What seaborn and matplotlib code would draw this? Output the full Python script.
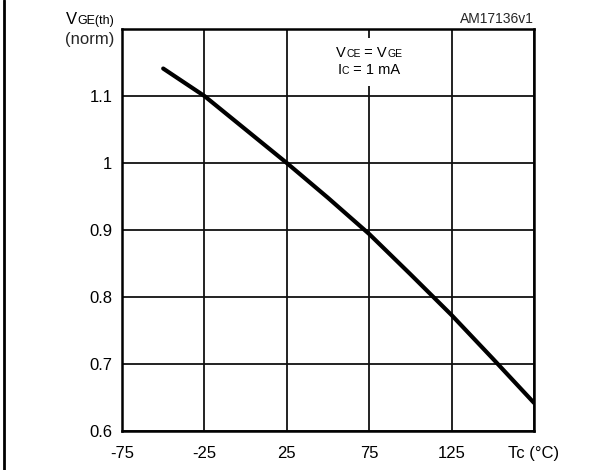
import numpy as np
import pandas as pd
import seaborn as sns
import matplotlib.pyplot as plt
from matplotlib.lines import Line2D
from matplotlib.offsetbox import TextArea, HPacker, VPacker, AnnotationBbox

# normalised gate threshold voltage vs case temperature
temp_c = [-50, -25, 0, 25, 50, 75, 100, 125, 150, 175]
vge_norm = [1.141, 1.100, 1.050, 1.000, 0.948, 0.894, 0.834, 0.773, 0.708, 0.642]

x_ticks = [-75, -25, 25, 75, 125, 175]
x_ticklabels = ['-75', '-25', '25', '75', '125', 'Tc (°C)']
y_ticks = [0.6, 0.7, 0.8, 0.9, 1.0, 1.1, 1.2]
y_ticklabels = ['0.6', '0.7', '0.8', '0.9', '1', '1.1', '']

sns.set_style('white')
plt.rcParams['font.family'] = ['Liberation Sans', 'DejaVu Sans']

df = pd.DataFrame({'Tc': temp_c, 'Vge': vge_norm})

fig = plt.figure(figsize=(6.13, 4.70), dpi=100)
ax = fig.add_axes([122 / 613, 39 / 470, 412 / 613, 402 / 470])

sns.lineplot(data=df, x='Tc', y='Vge', color='black', linewidth=3, ax=ax, zorder=5)

ax.set_xlim(-75, 175)
ax.set_ylim(0.6, 1.2)
ax.set_xticks(x_ticks)
ax.set_xticklabels(x_ticklabels)
ax.set_yticks(y_ticks)
ax.set_yticklabels(y_ticklabels)
ax.tick_params(axis='both', length=0, labelsize=12, colors='black')
ax.tick_params(axis='x', pad=11)
ax.tick_params(axis='y', pad=7)
ax.set_xlabel('')
ax.set_ylabel('')
ax.grid(True, color='#111111', linewidth=1.3)
for sp in ax.spines.values():
    sp.set_visible(True)
    sp.set_color('black')
    sp.set_linewidth(1.8)


def mixed(parts):
    kids = [TextArea(t, textprops=dict(fontsize=s, color='black')) for t, s in parts]
    return HPacker(children=kids, align='baseline', pad=0, sep=0)


# conditions box over the 75 gridline
cond = VPacker(children=[mixed([('V', 10.5), ('CE', 7.5), (' = V', 10.5), ('GE', 7.5)]),
                         mixed([('I', 10.5), ('C', 7.5), (' = 1 mA', 10.5)])],
               align='center', pad=0, sep=2)
ab = AnnotationBbox(cond, (75, 1.151), xycoords='data', frameon=True,
                    box_alignment=(0.5, 0.5), pad=0.6,
                    bboxprops=dict(facecolor='white', edgecolor='none'), zorder=4)
ax.add_artist(ab)

# y-axis label at the top left
ylab = mixed([('V', 12), ('GE(th)', 9)])
ax.add_artist(AnnotationBbox(ylab, (114 / 613, 1 - 24 / 470), xycoords='figure fraction',
                             box_alignment=(1, 0.2), frameon=False, pad=0))
fig.text(114 / 613, 1 - 44 / 470, '(norm)', fontsize=12, ha='right', va='baseline')

fig.text(534 / 613, 1 - 23 / 470, 'AM17136v1', fontsize=10, ha='right', va='baseline')

# left border of the page
fig.add_artist(Line2D([4 / 613, 4 / 613], [0, 1], transform=fig.transFigure,
                      color='black', linewidth=2))

fig.savefig('out.png', dpi=100)
